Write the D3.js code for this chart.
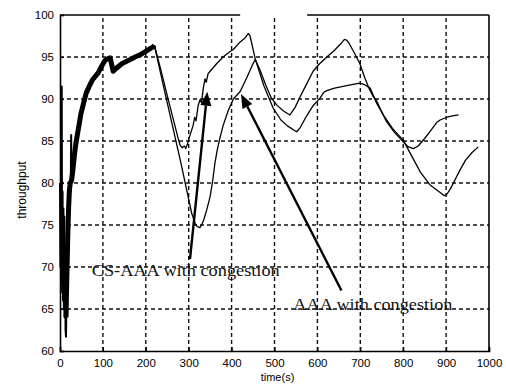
<!DOCTYPE html>
<html><head><meta charset="utf-8">
<script src="https://cdn.jsdelivr.net/npm/d3@7"></script>
<style>body{margin:0;background:#fff}</style>
</head><body><svg id="c" width="506" height="387"></svg>
<script>
const xTicks=[0,100,200,300,400,500,600,700,800,900,1000];
const yTicks=[60,65,70,75,80,85,90,95,100];
const xLabel="time(s)";
const yLabel="throughput";
// shared start-up phase (both runs overlap): noisy burst, then ramp
const startupNoise=[[0,80],[1,70],[2,78],[3,68],[4,91.5],[5,67],[6,79],[7,66],[8,77],[9,65],[10,76],[11,64],[12,72],[13,62.5],[14,61.7],[15,66],[16,69],[17,71],[18,73.5],[19,75],[20,77],[21,78],[22,79.2],[24,80],[25,79],[26,85.7],[27,80.3]];
const startupRamp=[[14,64],[16,69],[18,73.5],[20,77],[22,79.2],[24,80],[27,80.3],[30,81.5],[34,83.5],[37,84.7],[43,86.5],[49,88.3],[55,89.5],[61,90.7],[68,91.5],[76,92.3],[89,93.1],[97,93.9],[105,94.6],[112,94.8],[117,94.9],[120,94.2],[124,93.3],[130,93.6],[144,94.2],[160,94.6],[175,95.0],[188,95.3],[198,95.6],[210,96.0],[217,96.2],[220,96.4]];
const csAAA=[[220,96.4],[235,93.5],[250,90.4],[265,87.4],[275,85.4],[280,84.5],[285,84.2],[290,84.4],[293,84.1],[297,84.6],[300,85.2],[305,86],[310,86.8],[314,87.8],[317,87.4],[322,89.2],[326,89.9],[330,89.6],[334,91.3],[338,92.4],[341,92],[345,93],[350,93.3],[365,94.2],[380,95],[395,95.6],[404,95.9],[420,96.8],[432,97.3],[439,97.8],[443,97.5],[455,94.8],[475,91.6],[497,88.9],[515,87.5],[530,86.8],[545,86.3],[552,86.1],[560,86.6],[575,88],[590,89.2],[606,90.1],[615,90.8],[622,91],[640,91.3],[660,91.5],[680,91.7],[699,91.9],[710,91.7],[723,91.3],[738,89.5],[755,88],[775,86.5],[800,85.1],[820,83.2],[840,81.3],[862,79.8],[880,79.1],[895,78.5],[901,78.6],[910,79.3],[920,80.3],[932,81.5],[945,82.7],[960,83.6],[975,84.3]];
const aaa=[[220,96.4],[240,91.8],[260,87.3],[280,82.8],[299,78.3],[307,76.4],[315,75.2],[320,74.8],[326,74.7],[330,75],[335,75.6],[342,76.8],[350,78.4],[356,80.3],[361,82.3],[366,83.8],[372,85.2],[380,86.8],[392,88.6],[404,90],[420,90.9],[435,92.5],[448,94],[455,94.7],[465,93.6],[480,91.6],[493,90.1],[505,89.3],[520,88.6],[536,88.1],[548,89],[560,90.3],[575,91.8],[590,93.3],[605,94.2],[622,95],[640,95.8],[655,96.6],[663,97.1],[668,97],[673,96.7],[685,95.6],[699,94.2],[710,92.6],[720,91.3],[730,90.3],[738,89.8],[746,88.9],[760,87.4],[780,86],[800,84.9],[812,84.3],[824,84.1],[835,84.4],[850,85.3],[865,86.3],[878,87.2],[886,87.5],[900,87.8],[915,88],[929,88.1]];
const labels=[{text:"CS-AAA with congestion",x:74,y:68.9,len:188},{text:"AAA with congestion",x:544,y:64.85,len:159}];
const arrows=[{from:[303,70.95],to:[343.4,90.87]},{from:[656,67.2],to:[421.9,90.6]}];
const topGaps=[[0,420],[576,1000]];

const W=506,H=387,m={l:60,r:17,t:15,b:36};
const svg=d3.select("#c");
const x=d3.scaleLinear().domain([0,1000]).range([m.l,W-m.r]);
const y=d3.scaleLinear().domain([60,100]).range([H-m.b,m.t]);
const g=svg.append("g");
// grid
g.selectAll(".vg").data(xTicks.slice(1,-1)).join("line")
 .attr("x1",d=>x(d)).attr("x2",d=>x(d)).attr("y1",y(60)).attr("y2",y(100))
 .attr("stroke","#111").attr("stroke-width",1.4).attr("stroke-dasharray","4,3");
g.selectAll(".hg").data(yTicks.slice(1,-1)).join("line")
 .attr("y1",d=>y(d)).attr("y2",d=>y(d)).attr("x1",x(0)).attr("x2",x(1000))
 .attr("stroke","#111").attr("stroke-width",1.4).attr("stroke-dasharray","4,3");
// axes
const xa=svg.append("g").attr("transform",`translate(0,${y(60)})`)
 .call(d3.axisBottom(x).tickValues(xTicks).tickSize(-4).tickPadding(8).tickFormat(d3.format("d")));
const ya=svg.append("g").attr("transform",`translate(${x(0)},0)`)
 .call(d3.axisLeft(y).tickValues(yTicks).tickSize(-4).tickPadding(6).tickFormat(d3.format("d")));
[xa,ya].forEach(a=>{a.select(".domain").attr("stroke","#000").attr("stroke-width",1.6);
 a.selectAll(".tick line").attr("stroke","#000").attr("stroke-width",1.2);
 a.selectAll("text").attr("font-family","Liberation Sans, Arial, sans-serif").attr("font-size",11.5).attr("fill","#000");});
// right border and broken top border
svg.append("line").attr("x1",x(1000)).attr("x2",x(1000)).attr("y1",y(60)).attr("y2",y(100)).attr("stroke","#000").attr("stroke-width",1.6);
svg.selectAll(".tb").data(topGaps).join("line").attr("x1",d=>x(d[0])).attr("x2",d=>x(d[1])).attr("y1",y(100)).attr("y2",y(100)).attr("stroke","#000").attr("stroke-width",1.4);
// lines
const line=d3.line().x(d=>x(d[0])).y(d=>y(d[1]));
svg.append("path").datum(startupNoise).attr("d",line).attr("fill","none").attr("stroke","#000").attr("stroke-width",2).attr("stroke-linejoin","round");
svg.append("path").datum(startupRamp).attr("d",line).attr("fill","none").attr("stroke","#000").attr("stroke-width",5).attr("stroke-linejoin","round");
[csAAA,aaa].forEach(s=>svg.append("path").datum(s).attr("d",line).attr("fill","none").attr("stroke","#000").attr("stroke-width",1.3).attr("stroke-linejoin","round"));
// annotations
svg.selectAll(".lab").data(labels).join("text").attr("x",d=>x(d.x)).attr("y",d=>y(d.y))
 .attr("textLength",d=>d.len).attr("lengthAdjust","spacingAndGlyphs")
 .attr("font-family","Liberation Serif, Times New Roman, serif").attr("font-size",17).attr("fill","#111").text(d=>d.text);
arrows.forEach(a=>{
 const x0=x(a.from[0]),y0=y(a.from[1]),x1=x(a.to[0]),y1=y(a.to[1]);
 const dx=x1-x0,dy=y1-y0,L=Math.hypot(dx,dy),ux=dx/L,uy=dy/L,hl=14,hw=5.5;
 const bx=x1-ux*hl,by=y1-uy*hl;
 svg.append("line").attr("x1",x0).attr("y1",y0).attr("x2",bx).attr("y2",by).attr("stroke","#000").attr("stroke-width",2.4);
 svg.append("path").attr("d",`M${x1},${y1}L${bx-uy*hw},${by+ux*hw}L${bx+uy*hw},${by-ux*hw}Z`).attr("fill","#000");
});
// axis titles
svg.append("text").attr("x",(x(0)+x(1000))/2+3).attr("y",381).attr("text-anchor","middle")
 .attr("font-family","Liberation Sans, Arial, sans-serif").attr("font-size",11).attr("fill","#000").text(xLabel);
svg.append("text").attr("transform",`translate(26,190) rotate(-90)`).attr("text-anchor","middle")
 .attr("font-family","Liberation Sans, Arial, sans-serif").attr("font-size",12).attr("fill","#000").text(yLabel);
</script></body></html>
